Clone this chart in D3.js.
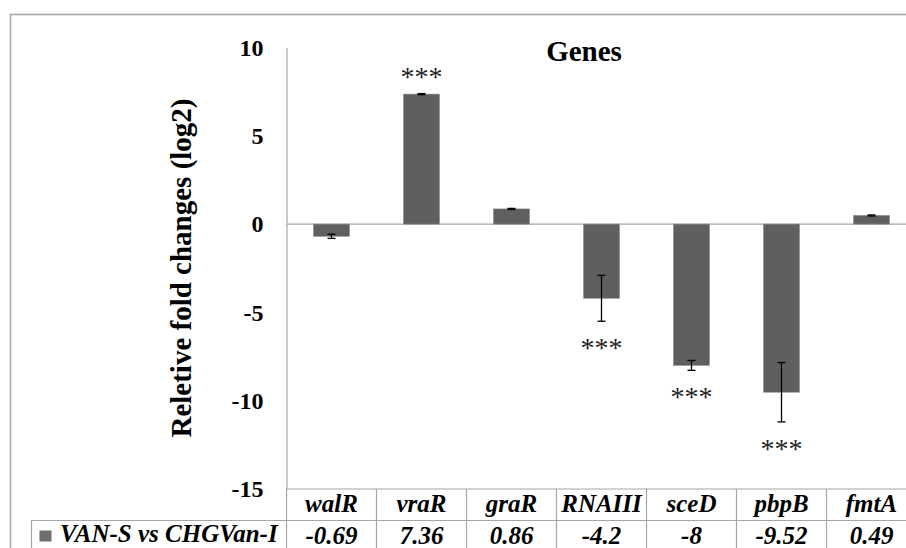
<!DOCTYPE html>
<html>
<head>
<meta charset="utf-8">
<script src="https://cdn.jsdelivr.net/npm/d3@7"></script>
<style>
  body { margin: 0; background: #fff; }
  svg text { font-family: "Times New Roman", "Liberation Serif", Tinos, Times, serif; }
</style>
</head>
<body>
<div id="chart"></div>
<script>
// data
var genes = ['walR', 'vraR', 'graR', 'RNAIII', 'sceD', 'pbpB', 'fmtA']
var values = [-0.69, 7.36, 0.86, -4.2, -8, -9.52, 0.49]
var errors = [0.12, 0.03, 0.03, 1.3, 0.28, 1.68, 0.03]
var stars = ['', '***', '', '***', '***', '***', '']
var valueLabels = ['-0.69', '7.36', '0.86', '-4.2', '-8', '-9.52', '0.49']
var yTicks = [10, 5, 0, -5, -10, -15]
var seriesName = 'VAN-S vs CHGVan-I'

var width = 906
var height = 548
var GRID = '#a6a6a6'
var BAR = '#5f5f5f'
var FONT = '"Times New Roman", "Liberation Serif", Tinos, Times, serif'

var svg = d3
  .select('#chart')
  .append('svg')
  .attr('width', width)
  .attr('height', height)
  .attr('font-family', FONT)

// outer chart border
svg
  .append('rect')
  .attr('x', 10.5)
  .attr('y', 14.5)
  .attr('width', 930)
  .attr('height', 560)
  .attr('fill', 'none')
  .attr('stroke', GRID)
  .attr('stroke-width', 1.6)

var x = d3
  .scaleBand()
  .domain(genes)
  .range([286.5, 916.5])
  .paddingInner(0.6)
  .paddingOuter(0.3)

var y = d3.scaleLinear().domain([-15, 10]).range([489, 47.5])

var step = x.step()
var colLeft = g => x(g) - (step - x.bandwidth()) / 2

// y axis
var yAxis = svg
  .append('g')
  .attr('transform', 'translate(286.5,0)')
  .call(
    d3
      .axisLeft(y)
      .tickValues(yTicks)
      .tickSize(0)
      .tickPadding(23)
      .tickFormat(d => String(d))
  )
  .attr('font-family', FONT)
yAxis.select('.domain').attr('stroke', GRID).attr('stroke-width', 1.2)
yAxis
  .selectAll('.tick text')
  .attr('font-size', 24)
  .attr('font-weight', 'bold')
  .attr('fill', '#000')

// zero line
svg
  .append('line')
  .attr('x1', 286.5)
  .attr('x2', 920)
  .attr('y1', y(0))
  .attr('y2', y(0))
  .attr('stroke', GRID)
  .attr('stroke-width', 1.2)

// axis title
svg
  .append('text')
  .attr('transform', 'translate(191,268) rotate(-90)')
  .attr('text-anchor', 'middle')
  .attr('font-size', 29)
  .attr('font-weight', 'bold')
  .text('Reletive fold changes (log2)')

// chart title
svg
  .append('text')
  .attr('x', 584)
  .attr('y', 61)
  .attr('text-anchor', 'middle')
  .attr('font-size', 29)
  .attr('font-weight', 'bold')
  .text('Genes')

// bars
svg
  .selectAll('.bar')
  .data(genes)
  .enter()
  .append('rect')
  .attr('class', 'bar')
  .attr('x', d => x(d))
  .attr('width', x.bandwidth())
  .attr('y', (d, i) => y(Math.max(0, values[i])))
  .attr('height', (d, i) => Math.abs(y(values[i]) - y(0)))
  .attr('fill', BAR)
  .attr('stroke', '#8a8a8a')
  .attr('stroke-width', 0.6)

// error bars
var err = svg
  .selectAll('.err')
  .data(genes)
  .enter()
  .append('g')
  .attr('class', 'err')
  .attr('stroke', '#000')
  .attr('stroke-width', 1.3)
err
  .append('line')
  .attr('x1', d => x(d) + x.bandwidth() / 2)
  .attr('x2', d => x(d) + x.bandwidth() / 2)
  .attr('y1', (d, i) => y(values[i] - errors[i]))
  .attr('y2', (d, i) => y(values[i] + errors[i]))
err
  .selectAll('.cap')
  .data((d, i) => [
    { g: d, v: values[i] - errors[i] },
    { g: d, v: values[i] + errors[i] }
  ])
  .enter()
  .append('line')
  .attr('x1', d => x(d.g) + x.bandwidth() / 2 - 4)
  .attr('x2', d => x(d.g) + x.bandwidth() / 2 + 4)
  .attr('y1', d => y(d.v))
  .attr('y2', d => y(d.v))

// significance stars
svg
  .selectAll('.stars')
  .data(genes)
  .enter()
  .append('text')
  .attr('class', 'stars')
  .attr('x', d => x(d) + x.bandwidth() / 2)
  .attr('y', (d, i) =>
    values[i] >= 0 ? y(values[i] + errors[i]) - 8 : y(values[i] - errors[i]) + 36
  )
  .attr('text-anchor', 'middle')
  .attr('font-size', 28)
  .attr('fill', '#222')
  .text((d, i) => stars[i])

// data table
var tableRight = 920
var rowTop = 489
var rowMid = 520.5
var table = svg.append('g').attr('stroke', GRID).attr('stroke-width', 1.2)
table.append('line').attr('x1', 286.5).attr('x2', tableRight).attr('y1', rowTop).attr('y2', rowTop)
table.append('line').attr('x1', 31.5).attr('x2', tableRight).attr('y1', rowMid).attr('y2', rowMid)
table.append('line').attr('x1', 31.5).attr('x2', 31.5).attr('y1', rowMid).attr('y2', height + 5)
table.append('line').attr('x1', 286.5).attr('x2', 286.5).attr('y1', rowTop).attr('y2', height + 5)
table
  .selectAll('.col')
  .data(genes)
  .enter()
  .append('line')
  .attr('x1', d => colLeft(d) + step)
  .attr('x2', d => colLeft(d) + step)
  .attr('y1', rowTop)
  .attr('y2', height + 5)

svg
  .selectAll('.hdr')
  .data(genes)
  .enter()
  .append('text')
  .attr('x', d => x(d) + x.bandwidth() / 2)
  .attr('y', 512)
  .attr('text-anchor', 'middle')
  .attr('font-size', 25)
  .attr('font-weight', 'bold')
  .attr('font-style', 'italic')
  .text(d => d)

svg
  .selectAll('.val')
  .data(genes)
  .enter()
  .append('text')
  .attr('x', d => x(d) + x.bandwidth() / 2)
  .attr('y', 544)
  .attr('text-anchor', 'middle')
  .attr('font-size', 25)
  .attr('font-weight', 'bold')
  .attr('font-style', 'italic')
  .text((d, i) => valueLabels[i])

// legend key in table
svg
  .append('rect')
  .attr('x', 39.5)
  .attr('y', 530.5)
  .attr('width', 12)
  .attr('height', 11)
  .attr('fill', '#6e6e6e')
svg
  .append('text')
  .attr('x', 60)
  .attr('y', 542)
  .attr('font-size', 25)
  .attr('font-weight', 'bold')
  .attr('font-style', 'italic')
  .text(seriesName)
</script>
</body>
</html>
